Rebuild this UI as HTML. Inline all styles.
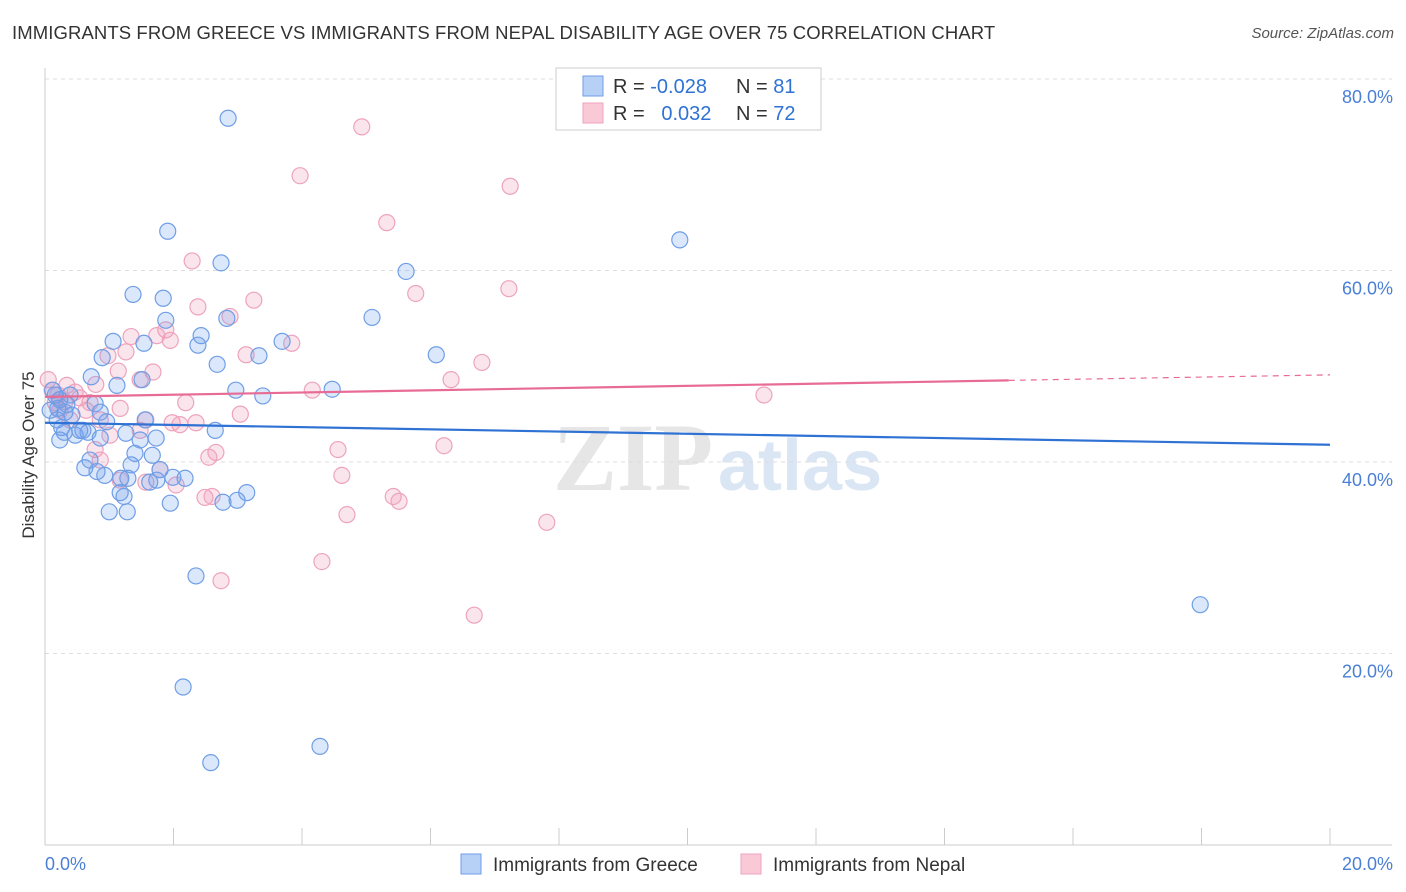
<!DOCTYPE html>
<html><head><meta charset="utf-8">
<style>
body{margin:0;background:#fff;font-family:"Liberation Sans",sans-serif;}
#wrap{position:relative;width:1406px;height:892px;overflow:hidden;}
.t{position:absolute;white-space:nowrap;}
</style></head>
<body>
<div id="wrap">
<div class="t" style="left:12px;top:22px;font-size:18.5px;color:#333;letter-spacing:0.1px;">IMMIGRANTS FROM GREECE VS IMMIGRANTS FROM NEPAL DISABILITY AGE OVER 75 CORRELATION CHART</div>
<div class="t" style="right:12px;top:25px;font-size:15px;color:#555;font-style:italic;">Source: ZipAtlas.com</div>
<svg id="svg" width="1406" height="892" style="position:absolute;left:0;top:0"></svg>
</div>
<script>
const yTicks=[20,40,60,80];
const yTickLabels=["20.0%","40.0%","60.0%","80.0%"];
const xTickVals=[0,2,4,6,8,10,12,14,16,18,20];
const greeceX=[2.85,1.91,9.88,2.74,5.62,1.37,1.84,5.09,2.83,1.88,2.43,1.06,1.54,3.69,2.38,3.33,6.09,0.89,2.68,0.72,1.12,1.51,2.97,4.47,3.39,0.12,0.23,0.34,0.78,0.42,0.19,0.96,0.26,0.54,1.56,2.65,1.26,0.86,0.47,1.48,1.73,0.59,0.67,0.30,1.67,1.40,0.70,0.62,1.34,0.81,1.79,0.93,1.18,1.63,1.29,1.99,2.18,1.74,1.17,1.23,3.14,2.99,2.77,1.95,1.00,1.28,2.35,2.15,4.28,2.58,17.98,0.08,0.16,0.39,0.31,0.86,0.23,0.20];
const greeceY=[75.9,64.1,63.2,60.8,59.9,57.5,57.1,55.1,55.0,54.8,53.2,52.6,52.4,52.6,52.2,51.1,51.2,50.9,50.2,48.9,48.0,48.6,47.5,47.6,46.9,47.5,46.5,46.0,46.1,44.9,44.4,44.2,43.6,43.3,44.4,43.3,43.0,42.5,42.8,42.3,42.5,43.3,43.1,43.1,40.7,40.9,40.2,39.4,39.7,39.0,39.2,38.6,38.3,37.9,38.3,38.4,38.3,38.1,36.8,36.4,36.8,36.0,35.8,35.7,34.8,34.8,28.1,16.5,10.3,8.6,25.1,45.4,47.0,47.0,45.2,45.2,42.3,45.6];
const nepalX=[4.93,3.97,7.24,5.32,2.29,5.77,7.22,3.25,2.38,2.88,1.88,1.34,1.74,3.84,1.95,1.26,3.13,6.80,0.98,6.32,1.48,1.68,1.14,0.79,4.16,0.34,11.19,0.05,0.11,0.20,0.54,0.64,1.17,2.19,3.04,0.86,1.57,1.98,2.35,2.10,1.48,1.01,0.23,0.39,6.21,4.56,2.66,2.55,1.79,4.62,2.04,1.17,1.57,2.49,2.60,5.42,5.51,4.70,7.81,4.31,2.74,6.68,0.23,0.70,0.47,0.16,0.31,0.78,0.86];
const nepalY=[75.0,69.9,68.8,65.0,61.0,57.6,58.1,56.9,56.2,55.2,53.8,53.1,53.2,52.4,52.7,51.5,51.2,50.4,51.1,48.6,48.6,49.4,49.5,48.1,47.5,48.0,47.0,48.6,47.5,47.0,46.7,45.4,45.6,46.2,45.0,44.4,44.4,44.1,44.1,43.9,43.3,42.8,45.4,44.4,41.7,41.3,41.0,40.5,39.2,38.6,37.6,38.1,37.9,36.3,36.4,36.4,35.9,34.5,33.7,29.6,27.6,24.0,46.5,46.2,47.3,46.2,46.3,41.3,40.2];
const greeceTrend=[44.1,41.8];
const nepalTrend=[46.8,49.1];
const nepalSolidEnd=15.0;

const X0=45,X1=1330,Y0=845,PER=9.575;
function xs(v){return X0+v*(X1-X0)/20;}
function ys(v){return Y0-v*PER;}
const svg=document.getElementById('svg');
const NS='http://www.w3.org/2000/svg';
function mk(tag,attrs,parent){const e=document.createElementNS(NS,tag);for(const k in attrs)e.setAttribute(k,attrs[k]);(parent||svg).appendChild(e);return e;}

let wm=mk('text',{x:553,y:490,'font-size':96,'font-family':'Liberation Serif,serif',fill:'#e6e6e6','font-weight':'bold'});wm.textContent='ZIP';


let wm2=mk('text',{x:718,y:490,'font-size':72,'font-family':'Liberation Sans,sans-serif',fill:'#dbe6f5','font-weight':'bold'});wm2.textContent='atlas';



yTicks.forEach((t,i)=>{
 const g=mk('line',{x1:X0,x2:1392,y1:ys(t),y2:ys(t),stroke:'#dcdcdc','stroke-dasharray':'4,4'});
 
 
 const l=mk('text',{x:1393,y:ys(t)+24,'text-anchor':'end','font-size':18,fill:'#4a7fd6','font-family':'Liberation Sans,sans-serif'});
 l.textContent=yTickLabels[i];
 
 
});
let ax=mk('line',{x1:X0,x2:X0,y1:68,y2:Y0,stroke:'#ccc'});


let bx=mk('line',{x1:X0,x2:1392,y1:Y0,y2:Y0,stroke:'#ccc'});


xTickVals.forEach(t=>{
 const tk=mk('line',{x1:xs(t),x2:xs(t),y1:828,y2:Y0,stroke:'#ccc'});
 
 
});
let xl0=mk('text',{x:45,y:870,'font-size':18,fill:'#4a7fd6'});xl0.textContent='0.0%';


let xl1=mk('text',{x:1393,y:870,'text-anchor':'end','font-size':18,fill:'#4a7fd6'});xl1.textContent='20.0%';


let yt=mk('text',{x:34,y:455,'font-size':17,fill:'#333','text-anchor':'middle',transform:'rotate(-90 34 455)'});yt.textContent='Disability Age Over 75';



function dots(xsA,ysA,fill,stroke,name){
 for(let i=0;i<xsA.length;i++){
  const c=mk('circle',{cx:xs(xsA[i]),cy:ys(ysA[i]),r:8,fill:fill,stroke:stroke,'stroke-width':1.2});
  
  
 }
}
dots(nepalX,nepalY,'rgba(240,150,180,0.25)','#eea3bd','nepal-point');
dots(greeceX,greeceY,'rgba(110,160,235,0.25)','#6f9ee6','greece-point');

let gt=mk('line',{x1:xs(0),y1:ys(greeceTrend[0]),x2:xs(20),y2:ys(greeceTrend[1]),stroke:'#2f72d4','stroke-width':2.2});


const nAt=v=>nepalTrend[0]+(nepalTrend[1]-nepalTrend[0])*v/20;
let nt=mk('line',{x1:xs(0),y1:ys(nepalTrend[0]),x2:xs(nepalSolidEnd),y2:ys(nAt(nepalSolidEnd)),stroke:'#e76b95','stroke-width':2.2});


let nd=mk('line',{x1:xs(nepalSolidEnd),y1:ys(nAt(nepalSolidEnd)),x2:xs(20),y2:ys(nepalTrend[1]),stroke:'#e76b95','stroke-width':1.2,'stroke-dasharray':'6,5'});



let lb=mk('rect',{x:556,y:68,width:265,height:62,fill:'#fff',stroke:'#ccc'});


function legRow(y,fill,stroke,r,n,name){
 const s=mk('rect',{x:583,y:y-10,width:20,height:20,fill:fill,stroke:stroke});
 
 
 const t=mk('text',{x:613,y:y+7,'font-size':20,fill:'#333'});
 t.innerHTML='R = <tspan fill="#2f72d4">'+r+'</tspan><tspan x="736">N = </tspan><tspan fill="#2f72d4">'+n+'</tspan>';
 
 
}
legRow(86,'#b7d0f5','#6f9ee6','-0.028','81','greece');
legRow(113,'#f9c9d8','#eea3bd','\u00a0\u00a00.032','72','nepal');

function bleg(x,fill,stroke,label,name){
 const s=mk('rect',{x:x,y:854,width:20,height:20,fill:fill,stroke:stroke});
 
 
 const t=mk('text',{x:x+32,y:871,'font-size':19,fill:'#333'});t.textContent=label;
 
 
}
bleg(461,'#b7d0f5','#6f9ee6','Immigrants from Greece','greece');
bleg(741,'#f9c9d8','#eea3bd','Immigrants from Nepal','nepal');
</script>
</body></html>
